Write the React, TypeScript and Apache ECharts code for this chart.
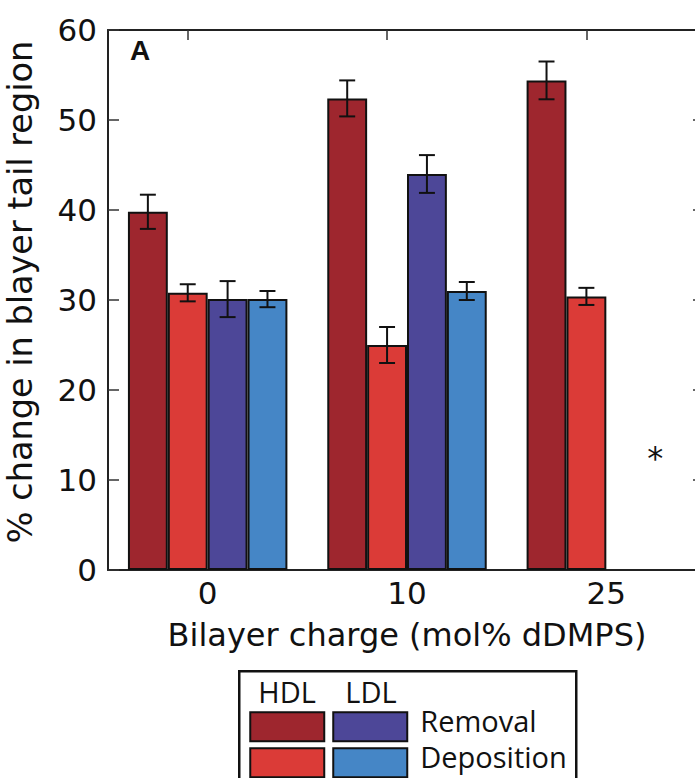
import React, { useEffect, useRef } from "react";
import * as echarts from "echarts";

const categories = ["0", "10", "25"];
const hdlRemoval = [39.8, 52.4, 54.4];
const hdlRemovalErr = [1.9, 2.0, 2.1];
const hdlDeposition = [30.8, 25.0, 30.4];
const hdlDepositionErr = [0.95, 2.0, 0.95];
const ldlRemoval = [30.1, 44.0, null];
const ldlRemovalErr = [2.0, 2.1, null];
const ldlDeposition = [30.1, 31.0, null];
const ldlDepositionErr = [0.9, 1.0, null];
const seriesNames = ["HDL Removal", "HDL Deposition", "LDL Removal", "LDL Deposition"];
const colors = ["#9e262e", "#db3b37", "#4d4798", "#4586c6"];
const asterisk = { cat: 2, value: 12.4, text: "*" };
const rightTicks = [10, 20, 30, 40, 50];

const allValues = [hdlRemoval, hdlDeposition, ldlRemoval, ldlDeposition];
const allErrs = [hdlRemovalErr, hdlDepositionErr, ldlRemovalErr, ldlDepositionErr];

export default function App() {
  const ref = useRef<HTMLDivElement>(null);
  useEffect(() => {
    if (!ref.current) return;
    document.body.style.margin = "0";
    document.body.style.overflow = "hidden";
    const chart = echarts.init(ref.current, null, { renderer: "svg" });
    const tickFont = "DejaVu Sans";
    const legendFont = "Open Sans";

    const barSeries = allValues.map((vals, k) => ({
      type: "bar",
      name: seriesNames[k],
      data: vals,
      barWidth: "20%",
      barGap: "0%",
      barCategoryGap: "20%",
      itemStyle: { color: colors[k], borderColor: "#111", borderWidth: 2 },
      z: 2,
    }));

    const errSeries = allValues.map((vals, k) => ({
      type: "custom",
      name: seriesNames[k] + " err",
      data: vals
        .map((v, i) => (v == null ? null : [i, v, allErrs[k][i]]))
        .filter((d) => d != null),
      z: 5,
      renderItem: (params: any, api: any) => {
        const i = api.value(0);
        const v = api.value(1);
        const e = api.value(2);
        const band = api.size([1, 0])[0];
        const off = (k - 1.5) * band * 0.2;
        const top = api.coord([i, v + e]);
        const bot = api.coord([i, v - e]);
        const x = top[0] + off;
        const cap = band * 0.04;
        const style = { stroke: "#111", lineWidth: 2 };
        return {
          type: "group",
          children: [
            { type: "line", shape: { x1: x, y1: top[1], x2: x, y2: bot[1] }, style },
            { type: "line", shape: { x1: x - cap, y1: top[1], x2: x + cap, y2: top[1] }, style },
            { type: "line", shape: { x1: x - cap, y1: bot[1], x2: x + cap, y2: bot[1] }, style },
          ],
        };
      },
    }));

    const rightTickSeries = {
      type: "custom",
      name: "right ticks",
      data: rightTicks.map((v) => [categories.length - 1, v]),
      z: 6,
      silent: true,
      renderItem: (params: any, api: any) => {
        const p = api.coord([api.value(0), api.value(1)]);
        const band = api.size([1, 0])[0];
        const xr = p[0] + band / 2;
        return {
          type: "line",
          shape: { x1: xr, y1: p[1], x2: xr - 13, y2: p[1] },
          style: { stroke: "#333", lineWidth: 1.5 },
        };
      },
    };

    const starSeries = {
      type: "custom",
      name: "marker",
      data: [[asterisk.cat, asterisk.value]],
      z: 6,
      renderItem: (params: any, api: any) => {
        const p = api.coord([api.value(0), api.value(1)]);
        const band = api.size([1, 0])[0];
        return {
          type: "text",
          x: p[0] + band * 0.245,
          y: p[1],
          style: {
            text: asterisk.text,
            font: "32px " + tickFont,
            fill: "#111",
            align: "center",
            verticalAlign: "middle",
          },
        };
      },
    };

    const option: any = {
      animation: false,
      backgroundColor: "#fff",
      grid: { left: 108, top: 30, width: 598, height: 540, containLabel: false, outerBoundsMode: "none" },
      xAxis: [
        {
          type: "category",
          data: categories,
          position: "bottom",
          axisLine: { show: true, lineStyle: { color: "#222", width: 2 } },
          axisTick: { show: false },
          axisLabel: { fontFamily: tickFont, fontSize: 31, color: "#111", margin: 7 },
          name: "Bilayer charge (mol% dDMPS)",
          nameLocation: "middle",
          nameGap: 49,
          nameTextStyle: { fontFamily: tickFont, fontSize: 32, color: "#111" },
        },
        {
          type: "value",
          position: "top",
          min: 0,
          max: 3,
          axisLine: { show: true, onZero: false, lineStyle: { color: "#222", width: 2 } },
          axisTick: { show: true, inside: true, length: 10, customValues: [0.4, 1.4, 2.4], lineStyle: { color: "#333", width: 1.5 } },
          axisLabel: { show: false },
          splitLine: { show: false },
        },
      ],
      yAxis: [
        {
          type: "value",
          min: 0,
          max: 60,
          interval: 10,
          position: "left",
          axisLine: { show: true, lineStyle: { color: "#222", width: 2 } },
          axisTick: { show: true, inside: true, length: 11, lineStyle: { color: "#333", width: 1.5 } },
          axisLabel: { fontFamily: tickFont, fontSize: 31, color: "#111", margin: 11 },
          splitLine: { show: false },
          name: "% change in blayer tail region",
          nameLocation: "middle",
          nameGap: 71,
          nameRotate: 90,
          nameTextStyle: { fontFamily: tickFont, fontSize: 33.5, color: "#111", padding: [0, 0, 0, 16] },
        },
      ],
      series: [...barSeries, ...errSeries, rightTickSeries, starSeries],
      graphic: [
        {
          type: "text",
          left: 130,
          top: 36,
          style: { text: "A", font: "bold 28px Liberation Sans", fill: "#111" },
        },
        {
          type: "group",
          left: 238,
          top: 670,
          children: [
            { type: "rect", shape: { x: 0, y: 0, width: 337, height: 120 }, style: { fill: "#fff", stroke: "#111", lineWidth: 2.5 } },
            { type: "text", x: 19, y: 6, style: { text: "HDL", font: "29px " + legendFont, fill: "#111" } },
            { type: "text", x: 106, y: 6, style: { text: "LDL", font: "29px " + legendFont, fill: "#111" } },
            { type: "rect", shape: { x: 11, y: 41, width: 74, height: 29 }, style: { fill: colors[0], stroke: "#111", lineWidth: 2 } },
            { type: "rect", shape: { x: 94, y: 41, width: 74, height: 29 }, style: { fill: colors[2], stroke: "#111", lineWidth: 2 } },
            { type: "rect", shape: { x: 11, y: 77, width: 74, height: 29 }, style: { fill: colors[1], stroke: "#111", lineWidth: 2 } },
            { type: "rect", shape: { x: 94, y: 77, width: 74, height: 29 }, style: { fill: colors[3], stroke: "#111", lineWidth: 2 } },
            { type: "text", x: 181, y: 35, style: { text: "Removal", font: "29px " + legendFont, fill: "#111" } },
            { type: "text", x: 181, y: 71, style: { text: "Deposition", font: "29px " + legendFont, fill: "#111" } },
          ],
        },
      ],
    };
    chart.setOption(option);
    return () => chart.dispose();
  }, []);
  return <div ref={ref} style={{ position: "fixed", left: 0, top: 0, width: 695, height: 778 }} />;
}
